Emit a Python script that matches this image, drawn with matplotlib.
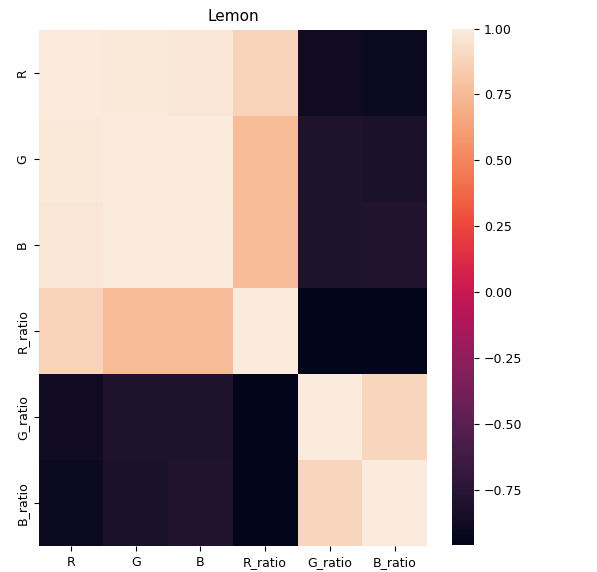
import numpy as np
import pandas as pd
import seaborn as sns
import matplotlib
matplotlib.use("Agg")
import matplotlib.pyplot as plt

labels = ["R", "G", "B", "R_ratio", "G_ratio", "B_ratio"]

# correlation values (symmetric matrix)
row_R = [1.00, 0.98, 0.97, 0.87, -0.88, -0.91]
row_G = [0.98, 1.00, 0.995, 0.75, -0.80, -0.82]
row_B = [0.97, 0.995, 1.00, 0.76, -0.80, -0.79]
row_R_ratio = [0.87, 0.75, 0.76, 1.00, -0.96, -0.96]
row_G_ratio = [-0.88, -0.80, -0.80, -0.96, 1.00, 0.89]
row_B_ratio = [-0.91, -0.82, -0.79, -0.96, 0.89, 1.00]

corr = pd.DataFrame([row_R, row_G, row_B, row_R_ratio, row_G_ratio, row_B_ratio],
                    index=labels, columns=labels)

fig = plt.figure(figsize=(5.97, 5.72), dpi=100)
ax = fig.add_axes([0.065, 0.045, 0.65, 0.903])
cax = fig.add_axes([0.757, 0.047, 0.037, 0.903])

sns.heatmap(corr, ax=ax, cbar_ax=cax, cmap="rocket")
ax.set_title("Lemon", fontsize=11)
ax.tick_params(labelsize=9)
cax.tick_params(labelsize=9)

fig.savefig("out.png", dpi=100)
